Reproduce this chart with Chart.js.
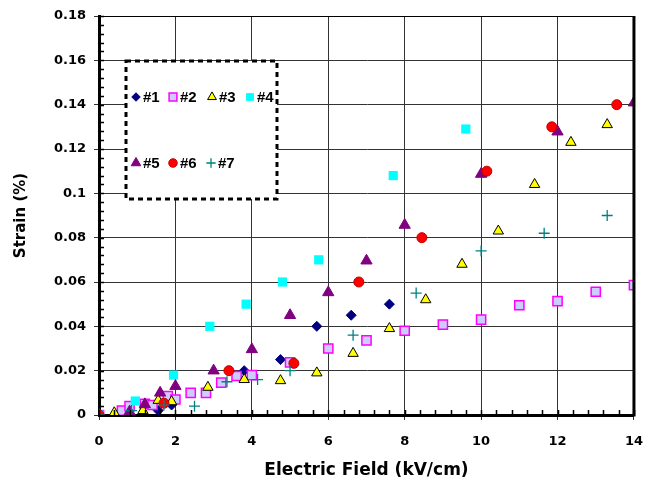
<!DOCTYPE html>
<html>
<head>
<meta charset="utf-8">
<script src="https://cdn.jsdelivr.net/npm/chart.js@4.4.1/dist/chart.umd.min.js"></script>
<style>
  html, body { margin: 0; padding: 0; background: #fff; }
  #wrap { width: 657px; height: 481px; }
</style>
</head>
<body>
<div id="wrap"><canvas id="chart" width="657" height="481"></canvas></div>
<script>
// === DATA ===
const seriesNames = ["#1", "#2", "#3", "#4", "#5", "#6", "#7"];

const s1x = [0, 1.55, 1.9, 3.8, 4.75, 5.7, 6.6, 7.6];
const s1y = [0, 0.002, 0.0045, 0.020, 0.025, 0.040, 0.045, 0.050];

const s2x = [0, 0.6, 0.8, 1.2, 1.4, 1.8, 2.0, 2.4, 2.8, 3.2, 3.6, 4.0, 5, 6, 7, 8, 9, 10, 11, 12, 13, 14];
const s2y = [0, 0.002, 0.004, 0.005, 0.0045, 0.0085, 0.007, 0.010, 0.010, 0.0146, 0.0176, 0.018, 0.0237, 0.030, 0.0337, 0.038, 0.0408, 0.043, 0.0495, 0.0514, 0.0556, 0.0586];

const s3x = [0, 0.4, 1.15, 1.55, 1.9, 2.85, 3.8, 4.75, 5.7, 6.65, 7.6, 8.55, 9.5, 10.45, 11.4, 12.35, 13.3];
const s3y = [0, 0.001, 0.002, 0.0066, 0.006, 0.0125, 0.016, 0.0155, 0.019, 0.0278, 0.039, 0.052, 0.068, 0.083, 0.104, 0.123, 0.131];

const s4x = [0, 0.95, 1.95, 2.9, 3.85, 4.8, 5.75, 7.7, 9.6];
const s4y = [0, 0.0063, 0.018, 0.040, 0.050, 0.060, 0.070, 0.108, 0.129];

const s5x = [0, 0.8, 1.2, 1.6, 2.0, 3, 4, 5, 6, 7, 8, 10, 12, 14];
const s5y = [0, 0.0015, 0.0048, 0.010, 0.013, 0.020, 0.0296, 0.045, 0.0553, 0.0696, 0.0857, 0.1087, 0.1278, 0.1409];

const s6x = [0, 1.7, 3.4, 5.1, 6.8, 8.45, 10.15, 11.85, 13.55];
const s6y = [0, 0.0053, 0.020, 0.0233, 0.060, 0.080, 0.110, 0.130, 0.140];

const s7x = [0, 0.85, 1.7, 2.5, 3.35, 4.15, 5.0, 6.65, 8.3, 10, 11.65, 13.3];
const s7y = [0, 0.002, 0.0045, 0.004, 0.015, 0.016, 0.020, 0.036, 0.055, 0.074, 0.082, 0.090];

const xTickLabels = ["0", "2", "4", "6", "8", "10", "12", "14"];
const yTickLabels = ["0", "0.02", "0.04", "0.06", "0.08", "0.1", "0.12", "0.14", "0.16", "0.18"];

// marker look for each series
const markerStyles = [
    { pointStyle: "rectRot",  radius: 5,   bg: "#000080", border: "#000080", bw: 1 },
    { pointStyle: "rect",     radius: 6.5, bg: "#CCCCFF", border: "#FF00FF", bw: 1.5 },
    { pointStyle: "triangle", radius: 6,   bg: "#FFFF00", border: "#000000", bw: 1 },
    { pointStyle: "rect",     radius: 6.5, bg: "#00FFFF", border: "#00FFFF", bw: 0 },
    { pointStyle: "triangle", radius: 6.5, bg: "#800080", border: "#800080", bw: 1 },
    { pointStyle: "circle",   radius: 5,   bg: "#FF0000", border: "#C00000", bw: 1 },
    { pointStyle: "cross",    radius: 5.5, bg: "#008080", border: "#008080", bw: 1.3 }
];

function toPoints(xs, ys) {
    return xs.map((x, i) => ({ x: x, y: ys[i] }));
}

const allX = [s1x, s2x, s3x, s4x, s5x, s6x, s7x];
const allY = [s1y, s2y, s3y, s4y, s5y, s6y, s7y];

const datasets = seriesNames.map((name, i) => {
    const m = markerStyles[i];
    return {
        label: name,
        data: toPoints(allX[i], allY[i]),
        showLine: false,
        pointStyle: m.pointStyle,
        pointRadius: m.radius,
        pointBackgroundColor: m.bg,
        pointBorderColor: m.border,
        pointBorderWidth: m.bw,
        order: seriesNames.length - i   // later series drawn on top, like the original
    };
});

const tickFont = { family: "DejaVu Sans", weight: "bold", size: 13 };

// === extra frame bits: thick right border, minor ticks, dashed legend ===
const framePlugin = {
    id: "frame",
    afterDraw(chart) {
        const ctx = chart.ctx;
        const area = chart.chartArea;
        const xs = chart.scales.x;
        const ys = chart.scales.y;
        ctx.save();

        // top and right edges
        ctx.strokeStyle = "#000";
        ctx.lineWidth = 1;
        ctx.beginPath();
        ctx.moveTo(area.left, area.top + 0.5);
        ctx.lineTo(area.right, area.top + 0.5);
        ctx.stroke();
        ctx.lineWidth = 3;
        ctx.beginPath();
        ctx.moveTo(area.right, area.top);
        ctx.lineTo(area.right, area.bottom + 1.5);
        ctx.stroke();

        // minor ticks
        ctx.lineWidth = 1.5;
        ctx.beginPath();
        for (let i = 0; i <= 45; i++) {
            const py = Math.round(ys.getPixelForValue(i * 0.004)) + 0.5;
            ctx.moveTo(area.left - 1, py);
            ctx.lineTo(area.left + 5, py);
        }
        for (let i = 0; i <= 35; i++) {
            const px = Math.round(xs.getPixelForValue(i * 0.4)) + 0.5;
            ctx.moveTo(px, area.bottom + 1);
            ctx.lineTo(px, area.bottom - 5);
        }
        ctx.stroke();

        // legend box
        ctx.fillStyle = "#fff";
        ctx.fillRect(126, 61, 151, 138);
        ctx.setLineDash([5, 4]);
        ctx.lineWidth = 3;
        ctx.strokeRect(126, 61, 151, 138);
        ctx.setLineDash([]);

        const spots = [
            [136, 97], [173, 97], [212, 97], [250, 97],
            [136, 163], [173, 163], [211, 163]
        ];
        ctx.font = "bold 15px 'Liberation Sans', Arial, sans-serif";
        ctx.textBaseline = "middle";
        ctx.textAlign = "left";
        spots.forEach((p, i) => {
            const m = markerStyles[i];
            ctx.fillStyle = m.bg;
            ctx.strokeStyle = m.border;
            ctx.lineWidth = m.bw;
            Chart.helpers.drawPoint(ctx, {
                pointStyle: m.pointStyle,
                radius: m.radius * 0.85,
                rotation: 0,
                borderWidth: m.bw
            }, p[0], p[1]);
            ctx.fillStyle = "#000";
            ctx.fillText(seriesNames[i], p[0] + 7, p[1] + 1);
        });

        ctx.restore();
    }
};

new Chart(document.getElementById("chart"), {
    type: "scatter",
    data: { datasets: datasets },
    options: {
        responsive: false,
        animation: false,
        layout: { padding: { top: 16, right: 20, left: 0, bottom: 0 } },
        plugins: {
            legend: { display: false },
            tooltip: { enabled: false }
        },
        scales: {
            x: {
                type: "linear",
                min: 0,
                max: 14,
                afterFit: (scale) => { scale.height = 66; },
                ticks: {
                    stepSize: 2,
                    color: "#000",
                    font: tickFont,
                    padding: 14,
                    maxRotation: 0,
                    callback: (v) => xTickLabels[Math.round(v / 2)]
                },
                grid: { color: "#333", lineWidth: 1, tickLength: 5 },
                border: { display: true, color: "#000", width: 3 },
                title: {
                    display: true,
                    text: "Electric Field (kV/cm)",
                    color: "#000",
                    font: { family: "DejaVu Sans", weight: "bold", size: 17 },
                    padding: { top: 0, bottom: 0 }
                }
            },
            y: {
                type: "linear",
                min: 0,
                max: 0.18,
                afterFit: (scale) => { scale.width = 99; },
                ticks: {
                    stepSize: 0.02,
                    color: "#000",
                    font: tickFont,
                    padding: 8,
                    callback: (v) => yTickLabels[Math.round(v / 0.02)]
                },
                grid: { color: "#333", lineWidth: 1, tickLength: 5 },
                border: { display: true, color: "#000", width: 3 },
                title: {
                    display: true,
                    text: "Strain (%)",
                    color: "#000",
                    font: { family: "DejaVu Sans", weight: "bold", size: 15 },
                    padding: { top: 12, bottom: 0 }
                }
            }
        }
    },
    plugins: [framePlugin]
});
</script>
</body>
</html>
